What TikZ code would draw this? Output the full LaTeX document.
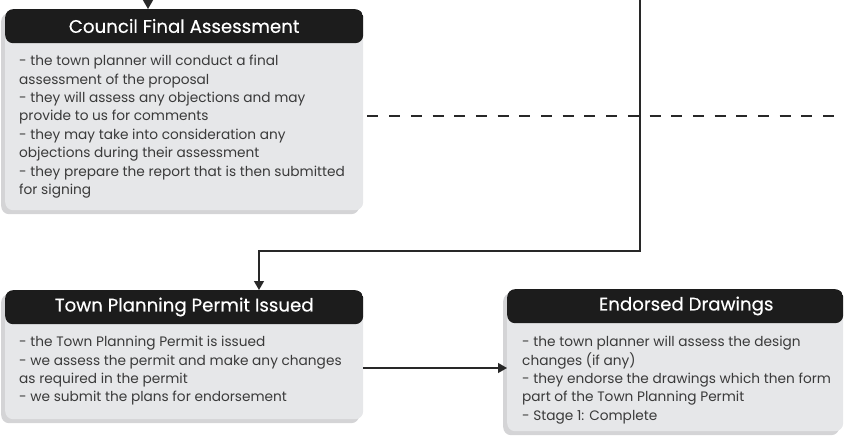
\documentclass[tikz,border=0pt]{standalone}
\usepackage{fontspec}
\setmainfont{Poppins}
\newfontfamily\headfont[FakeBold=0.4]{Poppins}
\usetikzlibrary{arrows.meta, positioning, shadows}
\definecolor{HeadBlack}{RGB}{28, 28, 28}
\definecolor{PanelGrey}{RGB}{230, 231, 233}
\definecolor{ShadowGrey}{RGB}{212, 212, 214}
\definecolor{TextGrey}{RGB}{58, 58, 58}
\definecolor{LineGrey}{RGB}{40, 40, 40}

\begin{document}
\begin{tikzpicture}[x=1pt, y=-1pt,
        panel/.style={rectangle, fill=PanelGrey, rounded corners=8pt, inner sep=0pt, anchor=north west,
            drop shadow={shadow xshift=-4pt, shadow yshift=-4pt, fill=ShadowGrey, opacity=1},
            path picture={\fill[HeadBlack] (path picture bounding box.north west) rectangle ([yshift=-34pt]path picture bounding box.north east);}},
        headtext/.style={text=white, font=\headfont\fontsize{18.2}{21}\selectfont, inner sep=0pt},
        bodytext/.style={text=TextGrey, font=\fontsize{13.7}{18.4}\selectfont, align=left, anchor=north west, inner sep=0pt},
        arrow/.style={-{Triangle[length=9pt, width=10pt]}, line width=1.3pt, LineGrey},
        dashline/.style={dash pattern=on 11pt off 10.7pt, line width=1.3pt, LineGrey}
    ]
        \useasboundingbox (0,0) rectangle (844,436);

        % Council Final Assessment
        \node[panel, minimum width=358pt, minimum height=201pt] (council) at (5,9) {};
        \node[headtext] (council-head) at ([yshift=-17pt]council.north) {Council Final Assessment};
        \node[bodytext] (council-text) at ([xshift=14pt, yshift=-46pt]council.north west) {- the town planner will conduct a final\\assessment of the proposal\\- they will assess any objections and may\\provide to us for comments\\- they may take into consideration any\\objections during their assessment\\- they prepare the report that is then submitted\\for signing};

        % Town Planning Permit Issued
        \node[panel, minimum width=358pt, minimum height=129pt] (town) at (5,290) {};
        \node[headtext] (town-head) at ([yshift=-17pt]town.north) {Town Planning Permit Issued};
        \node[bodytext] (town-text) at ([xshift=14pt, yshift=-46pt]town.north west) {- the Town Planning Permit is issued\\- we assess the permit and make any changes\\as required in the permit\\- we submit the plans for endorsement};

        % Endorsed Drawings
        \node[panel, minimum width=336pt, minimum height=142pt] (endorsed) at (507,289) {};
        \node[headtext] (endorsed-head) at ([xshift=11pt, yshift=-17pt]endorsed.north) {Endorsed Drawings};
        \node[bodytext] (endorsed-text) at ([xshift=15pt, yshift=-47pt]endorsed.north west) {- the town planner will assess the design\\changes (if any)\\- they endorse the drawings which then form\\part of the Town Planning Permit\\- Stage 1: Complete};

        % connectors
        \coordinate (council-in) at (148,0);
        \draw[arrow] (council-in) -- (council-in |- council.north);

        \coordinate (town-in) at (640,0);
        \coordinate (town-bend) at (259,251);
        \draw[arrow] (town-in) |- (town-bend) -- (town-bend |- town.north);

        \coordinate (dash-end) at (844,116);
        \draw[dashline] (council.east |- dash-end) ++(4,0) -- (dash-end);

        \draw[arrow] (town.east |- 0,368) -- (endorsed.west |- 0,368);
    \end{tikzpicture}
\end{document}
